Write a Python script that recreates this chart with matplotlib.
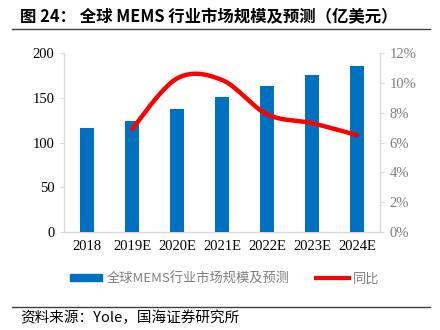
import numpy as np
import matplotlib
matplotlib.use("Agg")
import matplotlib.pyplot as plt
from matplotlib.lines import Line2D
from matplotlib.patches import Patch

plt.rcParams['font.family'] = ['Noto Sans CJK SC', 'DejaVu Sans']

# MEMS market size (100M USD) and YoY growth (%)
years = ['2018', '2019E', '2020E', '2021E', '2022E', '2023E', '2024E']
market = [116, 124, 137, 151, 163, 175, 186]
growth_years = ['2019E', '2020E', '2021E', '2022E', '2023E', '2024E']
growth = [6.9, 10.3, 10.2, 7.9, 7.3, 6.5]

blue = '#0070C0'
red = '#FF0000'
grey_txt = '#7F7F7F'
axis_grey = '#D9D9D9'


def smooth(xs, ys, n=40):
    # Bezier smoothing through the points, like a spreadsheet "smoothed line"
    pts = np.column_stack([xs, ys]).astype(float)
    ext = np.vstack([pts[0], pts, pts[-1]])
    out = []
    t = np.linspace(0, 1, n)[:, None]
    for i in range(len(pts) - 1):
        p0, p3 = ext[i + 1], ext[i + 2]
        c1 = p0 + (ext[i + 2] - ext[i]) / 6
        c2 = p3 - (ext[i + 3] - ext[i + 1]) / 6
        seg = ((1 - t) ** 3) * p0 + 3 * ((1 - t) ** 2) * t * c1 \
            + 3 * (1 - t) * t ** 2 * c2 + t ** 3 * p3
        out.append(seg)
    curve = np.vstack(out)
    return curve[:, 0], curve[:, 1]


fig = plt.figure(figsize=(4.4, 3.3), dpi=100)
ax = fig.add_axes([0.1455, 0.297, 0.718, 0.542])
x = np.arange(len(years))
ax.bar(x, market, width=0.33, color=blue, zorder=3)
ax.set_xlim(-0.51, 6.51)
ax.set_ylim(0, 200)
ax.set_yticks(range(0, 201, 50))
ax.set_xticks(x)
ax.set_xticklabels(years)

serif = 'Liberation Serif'
for lab in ax.get_yticklabels():
    lab.set_fontfamily(serif)
    lab.set_fontsize(10.5)
for lab in ax.get_xticklabels():
    lab.set_fontfamily(serif)
    lab.set_fontsize(10.5)
ax.tick_params(axis='y', length=3, width=0.8, color=axis_grey, pad=4)
ax.tick_params(axis='x', length=0, pad=6)
for s in ['top', 'right']:
    ax.spines[s].set_visible(False)
for s in ['left', 'bottom']:
    ax.spines[s].set_color(axis_grey)
    ax.spines[s].set_linewidth(1.0)

ax2 = ax.twinx()
gx = np.array([years.index(y) for y in growth_years])
sx, sy = smooth(gx, growth)
ax2.plot(sx, sy, color=red, lw=3.2, solid_capstyle='round', zorder=4)
ax2.set_ylim(0, 12)
ax2.set_yticks(range(0, 13, 2))
ax2.set_yticklabels([f'{v}%' for v in range(0, 13, 2)],
                    fontfamily=serif, fontsize=10.5, color=grey_txt)
ax2.tick_params(axis='y', length=3, width=0.8, color=axis_grey, pad=4)
for s in ['top', 'left', 'bottom']:
    ax2.spines[s].set_visible(False)
ax2.spines['right'].set_color(axis_grey)
ax2.spines['right'].set_linewidth(1.0)

# legend
handles = [Patch(color=blue), Line2D([0], [0], color=red, lw=3)]
fig.legend(handles, ['全球MEMS行业市场规模及预测', '同比'],
           loc='center', bbox_to_anchor=(0.51, 0.155), ncol=2, frameon=False,
           fontsize=9.5, labelcolor=grey_txt, handlelength=2.5, handleheight=0.45,
           handletextpad=0.3, columnspacing=2.0)

# title and source
fig.text(0.045, 0.948, '图 24： 全球 MEMS 行业市场规模及预测（亿美元）',
         fontsize=11.8, fontweight='bold', va='center', ha='left')
fig.add_artist(Line2D([0.027, 0.977], [0.911, 0.911], color='#404040', lw=1.0))
fig.add_artist(Line2D([0.027, 0.977], [0.07, 0.07], color='#404040', lw=1.0))
fig.text(0.045, 0.037, '资料来源：Yole，国海证券研究所', fontsize=10.5,
         va='center', ha='left')

fig.savefig('out.png', dpi=100)
